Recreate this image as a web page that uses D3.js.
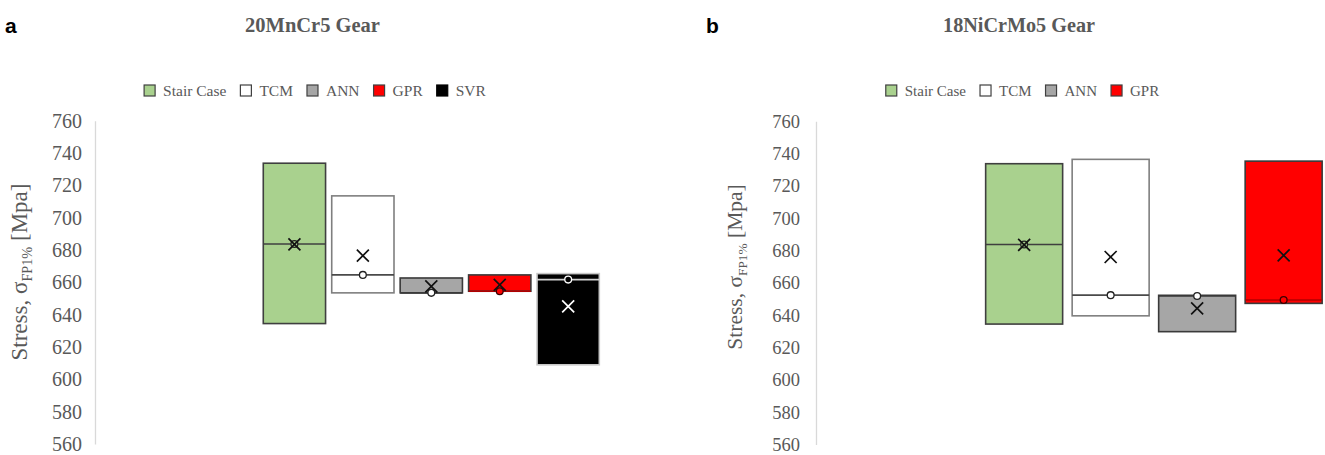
<!DOCTYPE html>
<html>
<head>
<meta charset="utf-8">
<script src="https://cdn.jsdelivr.net/npm/d3@7"></script>
<style>
  html, body { margin: 0; padding: 0; background: #fff; }
  svg { display: block; }
</style>
</head>
<body>
<svg id="chart" width="1325" height="455"></svg>
<script>
// ---------- Data ----------
const yTicks = [560, 580, 600, 620, 640, 660, 680, 700, 720, 740, 760];

// Panel a: 20MnCr5 Gear
const seriesA = ["Stair Case", "TCM", "ANN", "GPR", "SVR"];
const q1A     = [634.5, 653.5, 653.5, 654.5, 609.0];
const medianA = [683.7, 664.6, 653.5, 654.5, 661.7];
const q3A     = [733.7, 713.5, 662.7, 664.6, 665.4];
const meanA   = [683.5, 676.5, 657.5, 658.5, 645.2];

// Panel b: 18NiCrMo5 Gear
const seriesB = ["Stair Case", "TCM", "ANN", "GPR"];
const q1B     = [634.5, 639.6, 629.8, 647.3];
const medianB = [683.7, 652.4, 651.9, 649.4];
const q3B     = [733.7, 736.4, 652.3, 735.3];
const meanB   = [683.5, 676.0, 644.2, 677.0];

// ---------- Styles ----------
const styleOf = {
  "Stair Case": { fill: "#a9d18e", stroke: "#3f3f3f", median: "#3f3f3f", mark: "#111", ptFill: "#a9d18e", ptStroke: "#222" },
  "TCM":        { fill: "#ffffff", stroke: "#7f7f7f", median: "#4a4a4a", mark: "#111", ptFill: "#ffffff", ptStroke: "#222" },
  "ANN":        { fill: "#a6a6a6", stroke: "#3a3a3a", median: "#3a3a3a", mark: "#111", ptFill: "#ffffff", ptStroke: "#222" },
  "GPR":        { fill: "#ff0000", stroke: "#3a3a3a", median: "#b00000", mark: "#111", ptFill: "#ff0000", ptStroke: "#3a0000" },
  "SVR":        { fill: "#000000", stroke: "#c8c8c8", median: "#d0d0d0", mark: "#ffffff", ptFill: "#000000", ptStroke: "#ffffff" }
};
const textGray = "#595959";
const serif = "'Liberation Serif', 'Times New Roman', serif";

const svg = d3.select("#chart");

function panel(cfg) {
  const g = svg.append("g");
  const y = d3.scaleLinear().domain([560, 760]).range(cfg.yRange);
  const x = d3.scaleBand().domain(cfg.series).range(cfg.xRange)
    .paddingInner(cfg.padIn).paddingOuter(cfg.padIn / 2);

  // panel letter
  g.append("text").attr("x", cfg.letterX).attr("y", 33)
    .attr("font-family", "'Liberation Sans', Arial, sans-serif").attr("font-weight", "bold")
    .attr("font-size", 21).attr("fill", "#000").text(cfg.letter);

  // title
  g.append("text").attr("x", cfg.titleX).attr("y", 32).attr("text-anchor", "middle")
    .attr("font-family", serif).attr("font-weight", "bold").attr("font-size", cfg.titleSize)
    .attr("fill", textGray).text(cfg.title);

  // y axis
  const axis = d3.axisLeft(y).tickValues(yTicks).tickSize(0).tickSizeOuter(0)
    .tickPadding(cfg.tickPad).tickFormat(d3.format("d"));
  const ag = g.append("g").attr("transform", `translate(${cfg.axisX},0)`).call(axis);
  ag.select(".domain").attr("stroke", "#d9d9d9").attr("stroke-width", 1.3);
  ag.selectAll("text").attr("font-family", serif).attr("font-size", cfg.labelSize).attr("fill", textGray);

  // y title
  const yt = g.append("text")
    .attr("transform", `translate(${cfg.yTitleX},${cfg.yTitleY}) rotate(-90)`)
    .attr("text-anchor", "middle").attr("font-family", serif)
    .attr("font-size", cfg.yTitleSize).attr("fill", textGray);
  yt.append("tspan").text("Stress, σ");
  yt.append("tspan").attr("font-size", cfg.yTitleSize * 0.62).attr("dy", 5).text("FP1%");
  yt.append("tspan").attr("dy", -5).text(" [Mpa]");

  // boxes
  const rows = cfg.series.map((s, i) => ({
    s, q1: cfg.q1[i], med: cfg.median[i], q3: cfg.q3[i], mean: cfg.mean[i]
  }));
  const bw = x.bandwidth();
  const bg = g.selectAll(".box").data(rows).enter().append("g");
  bg.append("rect")
    .attr("x", d => x(d.s)).attr("y", d => y(d.q3))
    .attr("width", bw).attr("height", d => y(d.q1) - y(d.q3))
    .attr("fill", d => styleOf[d.s].fill).attr("stroke", d => styleOf[d.s].stroke)
    .attr("stroke-width", 1.6);
  bg.append("line")
    .attr("x1", d => x(d.s)).attr("x2", d => x(d.s) + bw)
    .attr("y1", d => y(d.med)).attr("y2", d => y(d.med))
    .attr("stroke", d => styleOf[d.s].median).attr("stroke-width", 1.6);
  // point marker at median
  bg.append("circle")
    .attr("cx", d => x(d.s) + bw / 2).attr("cy", d => y(d.med)).attr("r", 3.4)
    .attr("fill", d => styleOf[d.s].ptFill).attr("stroke", d => styleOf[d.s].ptStroke)
    .attr("stroke-width", 1.3);
  // mean X marker
  const h = 6;
  bg.append("path")
    .attr("d", d => {
      const cx = x(d.s) + bw / 2, cy = y(d.mean);
      return `M${cx - h},${cy - h}L${cx + h},${cy + h}M${cx - h},${cy + h}L${cx + h},${cy - h}`;
    })
    .attr("stroke", d => styleOf[d.s].mark).attr("stroke-width", 1.7).attr("fill", "none");

  // legend
  const lg = g.append("g");
  let cx = 0;
  const items = [];
  cfg.series.forEach(s => {
    const it = lg.append("g").attr("transform", `translate(${cx},0)`);
    it.append("rect").attr("x", 0).attr("y", 85).attr("width", 11).attr("height", 11)
      .attr("fill", styleOf[s].fill).attr("stroke", s === "SVR" ? "#000" : "#404040").attr("stroke-width", 1.2);
    const t = it.append("text").attr("x", 19).attr("y", 95.5)
      .attr("font-family", serif).attr("font-size", cfg.legendSize).attr("fill", textGray).text(s);
    const w = t.node().getComputedTextLength();
    cx += 19 + w + 14;
  });
  const totalW = cx - 14;
  lg.attr("transform", `translate(${cfg.legendCenter - totalW / 2},0)`);
}

panel({
  letter: "a", letterX: 5, title: "20MnCr5 Gear", titleX: 312.5, titleSize: 20.5,
  series: seriesA, q1: q1A, median: medianA, q3: q3A, mean: meanA,
  yRange: [444, 120.7], xRange: [260.2, 602.4], padIn: 0.09,
  axisX: 95, tickPad: 13, labelSize: 20,
  yTitleX: 27, yTitleY: 272, yTitleSize: 23,
  legendCenter: 315, legendSize: 15.5
});

panel({
  letter: "b", letterX: 706, title: "18NiCrMo5 Gear", titleX: 1019, titleSize: 20.2,
  series: seriesB, q1: q1B, median: medianB, q3: q3B, mean: meanB,
  yRange: [444.5, 121.2], xRange: [980.9, 1326.9], padIn: 0.11,
  axisX: 816, tickPad: 16, labelSize: 18.5,
  yTitleX: 742, yTitleY: 267, yTitleSize: 21.5,
  legendCenter: 1022.5, legendSize: 15
});
</script>
</body>
</html>
